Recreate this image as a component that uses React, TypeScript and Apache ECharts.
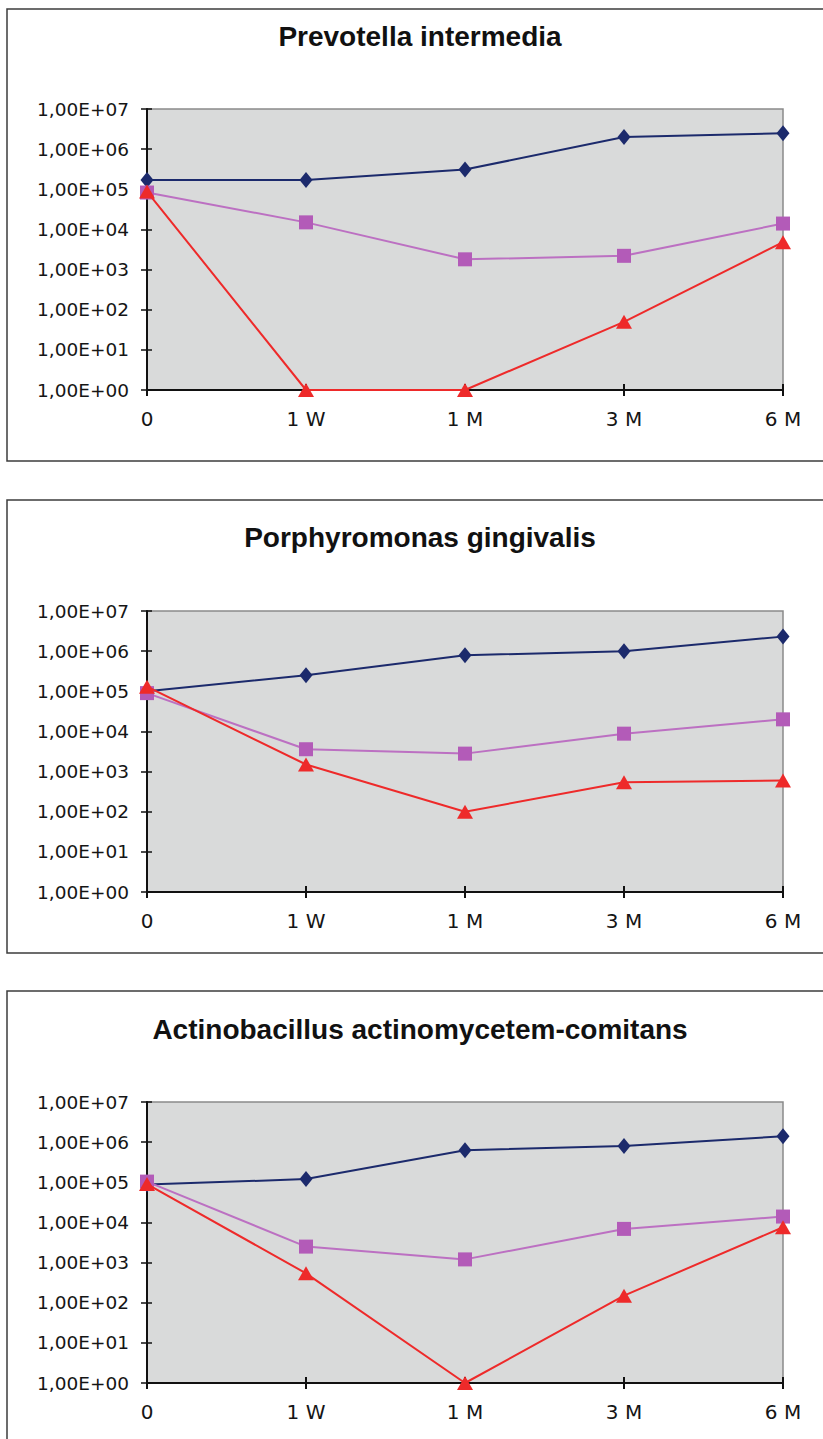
import React, { useEffect, useRef } from 'react';
import * as echarts from 'echarts';

const categories = ['0', '1 W', '1 M', '3 M', '6 M'];
const titles = [
  'Prevotella intermedia',
  'Porphyromonas gingivalis',
  'Actinobacillus actinomycetem-comitans',
];

// Panel 1: Prevotella intermedia
const prevotellaBlue = [1.7e5, 1.7e5, 3.1e5, 2.0e6, 2.5e6];
const prevotellaPink = [8.3e4, 1.5e4, 1.8e3, 2.2e3, 1.4e4];
const prevotellaRed = [8.8e4, 1, 1, 50, 4.8e3];

// Panel 2: Porphyromonas gingivalis
const porphyromonasBlue = [1.0e5, 2.5e5, 7.9e5, 1.0e6, 2.3e6];
const porphyromonasPink = [9.0e4, 3.6e3, 2.8e3, 8.8e3, 2.0e4];
const porphyromonasRed = [1.3e5, 1.5e3, 100, 5.4e2, 6.0e2];

// Panel 3: Actinobacillus actinomycetem-comitans
const actinoBlue = [8.8e4, 1.2e5, 6.3e5, 8.0e5, 1.4e6];
const actinoPink = [1.04e5, 2.5e3, 1.2e3, 6.9e3, 1.4e4];
const actinoRed = [9.0e4, 5.4e2, 1, 1.5e2, 7.6e3];

const yMin = 1;
const yMax = 1e7;

const panels = [
  [prevotellaBlue, prevotellaPink, prevotellaRed],
  [porphyromonasBlue, porphyromonasPink, porphyromonasRed],
  [actinoBlue, actinoPink, actinoRed],
];

const GRID_TOPS = [109, 611, 1102];
const BORDER_TOPS = [9, 500, 991];
const BORDER_HEIGHTS = [452, 453, 600];
const TITLE_Y = [36, 537, 1029];

const BLUE = '#1C2A6C';
const PINK = '#B35BB8';
const PINK_LINE = '#BC70C2';
const RED = '#EE2A2A';
const TEXT = '#151515';
const LABEL_FONT = '"DejaVu Sans", sans-serif';
const TITLE_FONT = '"Liberation Sans", Arial, sans-serif';

function yLabel(v: number): string {
  const e = Math.round(Math.log10(v));
  return '1,00E+' + (e < 10 ? '0' + e : String(e));
}

export default function App() {
  const ref = useRef<HTMLDivElement>(null);

  useEffect(() => {
    if (!ref.current) return;
    const chart = echarts.init(ref.current, undefined, { renderer: 'svg' });

    const grid: any[] = [];
    const xAxis: any[] = [];
    const yAxis: any[] = [];
    const series: any[] = [];
    const graphic: any[] = [];

    panels.forEach((data, g) => {
      grid.push({
        left: 147,
        top: GRID_TOPS[g],
        width: 636,
        height: 281,
        show: true,
        backgroundColor: '#D9DADA',
        borderColor: '#8A8A8A',
        borderWidth: 1.5,
        containLabel: false,
      });
      xAxis.push({
        type: 'category',
        gridIndex: g,
        position: 'bottom',
        data: categories,
        boundaryGap: false,
        axisLine: { show: true, lineStyle: { color: '#111', width: 2 } },
        axisTick: { show: true, alignWithLabel: true, length: 6, lineStyle: { color: '#111', width: 2 } },
        axisLabel: {
          show: true,
          interval: 0,
          margin: 19,
          color: TEXT,
          fontFamily: LABEL_FONT,
          fontSize: 20,
        },
        splitLine: { show: false },
      });
      xAxis.push({
        type: 'category',
        gridIndex: g,
        position: 'bottom',
        data: categories,
        boundaryGap: false,
        axisLine: { show: false },
        axisTick: { show: true, inside: true, length: 6, lineStyle: { color: '#111', width: 2 } },
        axisLabel: { show: false },
        splitLine: { show: false },
      });
      yAxis.push({
        type: 'log',
        logBase: 10,
        gridIndex: g,
        position: 'left',
        min: yMin,
        max: yMax,
        axisLine: { show: true, lineStyle: { color: '#111', width: 2 } },
        axisTick: { show: true, length: 6, lineStyle: { color: '#111', width: 1.5 } },
        axisLabel: {
          show: true,
          margin: 18,
          color: TEXT,
          fontFamily: LABEL_FONT,
          fontSize: 18.5,
          formatter: (v: number) => yLabel(v),
        },
        splitLine: { show: false },
      });
      yAxis.push({
        type: 'log',
        logBase: 10,
        gridIndex: g,
        position: 'left',
        min: yMin,
        max: yMax,
        axisLine: { show: false },
        axisTick: { show: true, inside: true, length: 5, lineStyle: { color: '#111', width: 1.5 } },
        axisLabel: { show: false },
        splitLine: { show: false },
      });

      const xi = g * 2;
      const yi = g * 2;
      series.push({
        type: 'line',
        xAxisIndex: xi,
        yAxisIndex: yi,
        data: data[0],
        symbol: 'diamond',
        symbolSize: [13, 16],
        showAllSymbol: true,
        lineStyle: { color: BLUE, width: 2 },
        itemStyle: { color: BLUE },
        z: 3,
      });
      series.push({
        type: 'line',
        xAxisIndex: xi,
        yAxisIndex: yi,
        data: data[1],
        symbol: 'rect',
        symbolSize: 14,
        showAllSymbol: true,
        lineStyle: { color: PINK_LINE, width: 2 },
        itemStyle: { color: PINK },
        z: 4,
      });
      series.push({
        type: 'line',
        xAxisIndex: xi,
        yAxisIndex: yi,
        data: data[2],
        symbol: 'triangle',
        symbolSize: [16, 14],
        showAllSymbol: true,
        lineStyle: { color: RED, width: 2 },
        itemStyle: { color: RED },
        z: 5,
      });

      graphic.push({
        type: 'rect',
        shape: { x: 7, y: BORDER_TOPS[g], width: 900, height: BORDER_HEIGHTS[g] },
        style: { fill: 'none', stroke: '#3C3C3C', lineWidth: 1.5 },
        silent: true,
        z: 0,
      });
      graphic.push({
        type: 'text',
        x: 420,
        y: TITLE_Y[g],
        style: {
          text: titles[g],
          fill: '#111',
          font: 'bold 28px ' + TITLE_FONT,
          textAlign: 'center',
          textVerticalAlign: 'middle',
        },
        silent: true,
      });
    });

    chart.setOption({
      animation: false,
      backgroundColor: '#ffffff',
      grid,
      xAxis,
      yAxis,
      series,
      graphic,
    });

    return () => {
      chart.dispose();
    };
  }, []);

  return (
    <div
      ref={ref}
      style={{ position: 'absolute', left: 0, top: 0, width: 823, height: 1439 }}
    />
  );
}
